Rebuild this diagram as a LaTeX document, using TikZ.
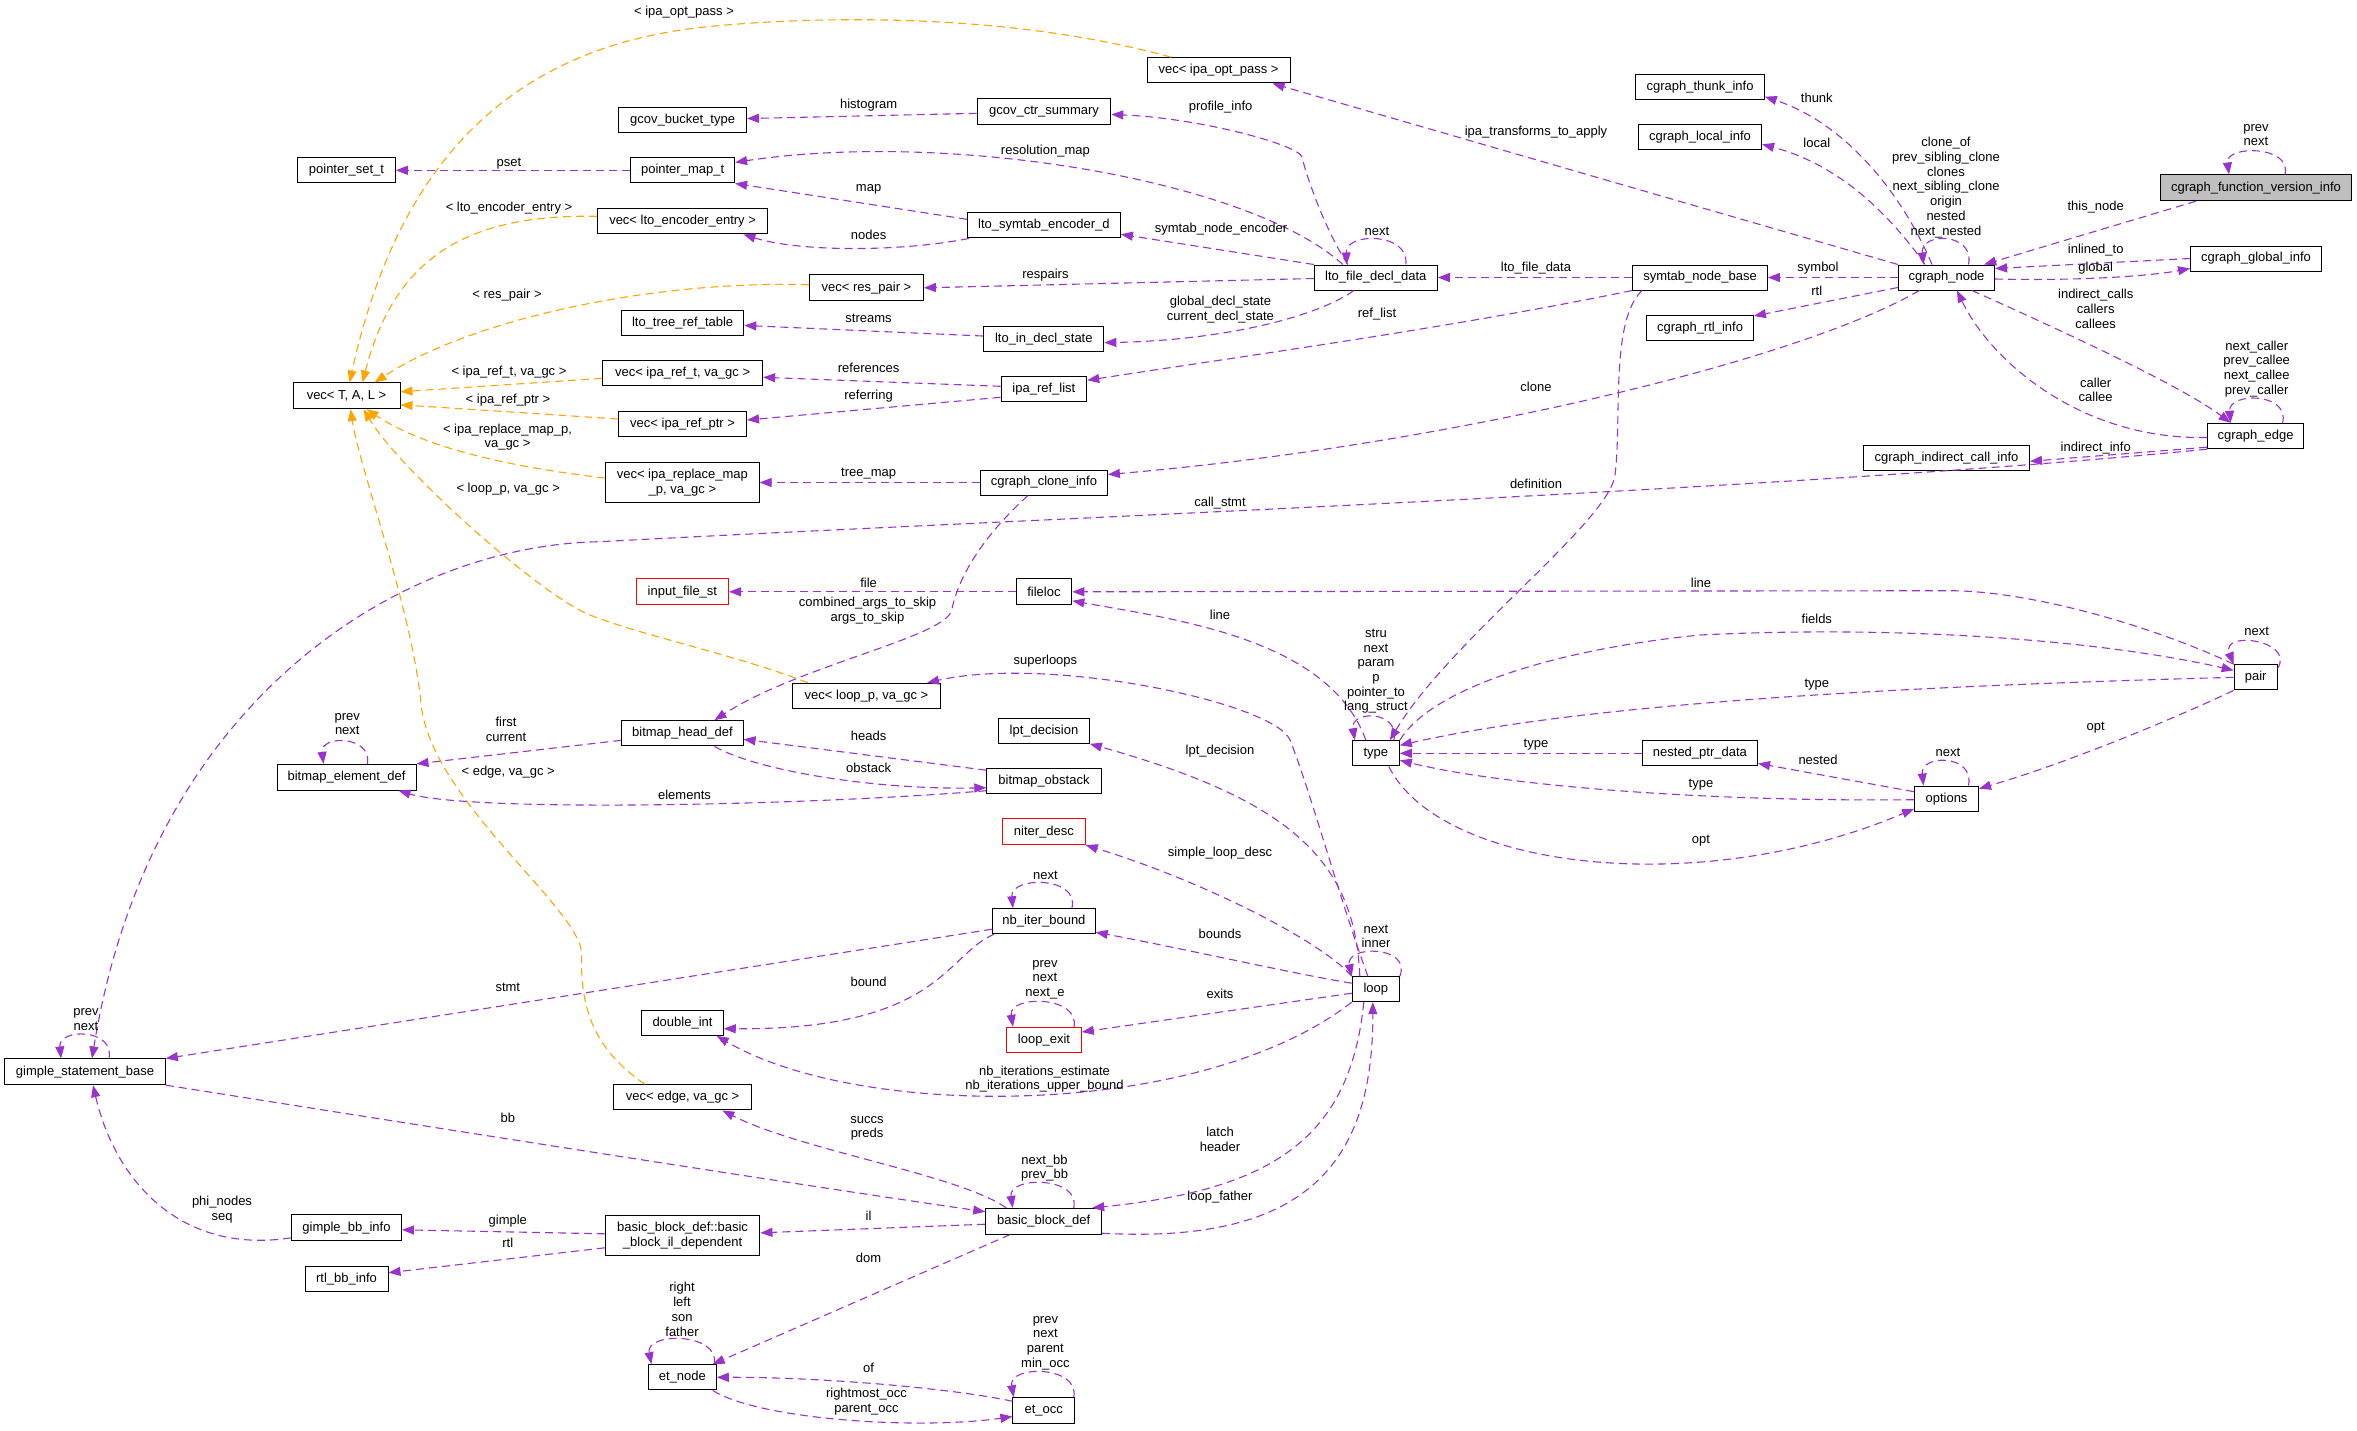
\documentclass[tikz,border=0pt]{standalone}
\usepackage{fontspec}
\setmainfont{Liberation Sans}
\usetikzlibrary{arrows.meta,calc}
\definecolor{epurple}{HTML}{9A32CD}
\definecolor{eorange}{HTML}{FFA500}
\definecolor{rootgray}{HTML}{BFBFBF}
\begin{document}
\begin{tikzpicture}[x=1pt,y=-1pt,
  cbox/.style={draw=black, line width=1pt, fill=white, inner sep=0pt, align=center, font=\fontsize{13}{14.7}\selectfont},
  rbox/.style={cbox, draw=red},
  lbl/.style={inner sep=0pt, align=center, font=\fontsize{13}{14.7}\selectfont},
  usearr/.style={draw=epurple, dash pattern=on 8pt off 5pt, line width=1.1pt, -{Triangle[length=12pt,width=9pt]}},
  tplarr/.style={usearr, draw=eorange}]
\useasboundingbox (0,0) rectangle (2357,1430);

% ---------------- nodes ----------------
\node[cbox, fill=rootgray, minimum width=191pt, minimum height=25.7pt] (nfvi) at (2256,187.8) {cgraph\_function\_version\_info};
\node[cbox, minimum width=96.2pt, minimum height=25pt] (ncgn) at (1946.5,277.5) {cgraph\_node};
\node[cbox, minimum width=131pt, minimum height=25pt] (ncgi) at (2256,258.5) {cgraph\_global\_info};
\node[cbox, minimum width=96.6pt, minimum height=25.4pt] (ncedge) at (2255.6,436) {cgraph\_edge};
\node[cbox, minimum width=166pt, minimum height=25.3pt] (nici) at (1946.5,458.3) {cgraph\_indirect\_call\_info};
\node[cbox, minimum width=128.6pt, minimum height=25.3pt] (nthunk) at (1700,86.7) {cgraph\_thunk\_info};
\node[cbox, minimum width=123.2pt, minimum height=25.3pt] (nlocal) at (1700,137.3) {cgraph\_local\_info};
\node[cbox, minimum width=106.8pt, minimum height=25.3pt] (nrtl) at (1700,328) {cgraph\_rtl\_info};
\node[cbox, minimum width=134.7pt, minimum height=25pt] (nsnb) at (1700,277.5) {symtab\_node\_base};
\node[cbox, minimum width=122.9pt, minimum height=25pt] (nlfdd) at (1375.8,277.5) {lto\_file\_decl\_data};
\node[cbox, minimum width=143pt, minimum height=25.3pt] (nvopt) at (1218.5,70.3) {vec< ipa\_opt\_pass >};
\node[cbox, minimum width=133.6pt, minimum height=25.7pt] (ngcs) at (1044,111.8) {gcov\_ctr\_summary};
\node[cbox, minimum width=127.8pt, minimum height=25.7pt] (ngbt) at (682.6,120) {gcov\_bucket\_type};
\node[cbox, minimum width=104pt, minimum height=25.3pt] (npmap) at (682.6,170.3) {pointer\_map\_t};
\node[cbox, minimum width=97.6pt, minimum height=25.3pt] (npset) at (346.5,170.3) {pointer\_set\_t};
\node[cbox, minimum width=170.6pt, minimum height=25.3pt] (nvlee) at (682.6,221.3) {vec< lto\_encoder\_entry >};
\node[cbox, minimum width=153pt, minimum height=25.3pt] (nlse) at (1043.9,225.3) {lto\_symtab\_encoder\_d};
\node[cbox, minimum width=113.7pt, minimum height=25.7pt] (nvrp) at (866.5,287.8) {vec< res\_pair >};
\node[cbox, minimum width=122.4pt, minimum height=25.3pt] (nltrt) at (682.6,322.7) {lto\_tree\_ref\_table};
\node[cbox, minimum width=120.2pt, minimum height=25.3pt] (nlids) at (1043.8,338.7) {lto\_in\_decl\_state};
\node[cbox, minimum width=160pt, minimum height=25.3pt] (nvrt) at (682.6,373.3) {vec< ipa\_ref\_t, va\_gc >};
\node[cbox, minimum width=85.7pt, minimum height=25.3pt] (nirl) at (1043.9,389.3) {ipa\_ref\_list};
\node[cbox, minimum width=127.8pt, minimum height=25.3pt] (nvrptr) at (682.6,424) {vec< ipa\_ref\_ptr >};
\node[cbox, minimum width=153.4pt, minimum height=39.6pt] (nvrm) at (682.4,482.5) {vec< ipa\_replace\_map\\\_p, va\_gc >};
\node[cbox, minimum width=127pt, minimum height=25pt] (ncci) at (1043.9,482.5) {cgraph\_clone\_info};
\node[cbox, minimum width=107pt, minimum height=25.7pt] (nvtal) at (346.5,395.8) {vec< T, A, L >};
\node[rbox, minimum width=92.2pt, minimum height=25.7pt] (nifs) at (682.4,591.8) {input\_file\_st};
\node[cbox, minimum width=55.8pt, minimum height=25.7pt] (nfloc) at (1043.9,591.8) {fileloc};
\node[cbox, minimum width=148.2pt, minimum height=25.4pt] (nvlp) at (866.5,696) {vec< loop\_p, va\_gc >};
\node[cbox, minimum width=121.3pt, minimum height=25.3pt] (nbhd) at (682.4,733.3) {bitmap\_head\_def};
\node[cbox, minimum width=90.7pt, minimum height=25.3pt] (nlpt) at (1044,730.7) {lpt\_decision};
\node[cbox, minimum width=114.4pt, minimum height=25pt] (nbob) at (1044,781.2) {bitmap\_obstack};
\node[cbox, minimum width=139pt, minimum height=25.7pt] (nbed) at (346.5,777.2) {bitmap\_element\_def};
\node[rbox, minimum width=82.6pt, minimum height=25.7pt] (nnd) at (1043.9,831.8) {niter\_desc};
\node[cbox, minimum width=102.6pt, minimum height=25pt] (nnib) at (1043.9,921.2) {nb\_iter\_bound};
\node[cbox, minimum width=47.1pt, minimum height=25.3pt] (ntype) at (1375.8,753.3) {type};
\node[cbox, minimum width=115.2pt, minimum height=25.3pt] (nnpd) at (1699.9,753.3) {nested\_ptr\_data};
\node[cbox, minimum width=43.1pt, minimum height=25.3pt] (npair) at (2255.7,677.3) {pair};
\node[cbox, minimum width=64pt, minimum height=25.3pt] (nopt) at (1946.5,798.7) {options};
\node[cbox, minimum width=160.7pt, minimum height=25.7pt] (ngsb) at (85,1071.8) {gimple\_statement\_base};
\node[cbox, minimum width=109.9pt, minimum height=25.7pt] (ngbb) at (346.5,1227.8) {gimple\_bb\_info};
\node[cbox, minimum width=83pt, minimum height=25.3pt] (nrbb) at (346.5,1278.7) {rtl\_bb\_info};
\node[cbox, minimum width=81.5pt, minimum height=25.3pt] (ndint) at (682.5,1022.7) {double\_int};
\node[rbox, minimum width=74.6pt, minimum height=25.4pt] (nlexit) at (1044,1040) {loop\_exit};
\node[cbox, minimum width=138.6pt, minimum height=25.3pt] (nvedge) at (682.6,1097.3) {vec< edge, va\_gc >};
\node[cbox, minimum width=116pt, minimum height=25.7pt] (nbbd) at (1043.7,1221.2) {basic\_block\_def};
\node[cbox, minimum width=154.7pt, minimum height=40.3pt] (nbbil) at (682.6,1235.8) {basic\_block\_def::basic\\\_block\_il\_dependent};
\node[cbox, minimum width=67.7pt, minimum height=25.3pt] (netn) at (682.4,1377.3) {et\_node};
\node[cbox, minimum width=61.6pt, minimum height=25.6pt] (neto) at (1043.7,1410.5) {et\_occ};
\node[cbox, minimum width=47.1pt, minimum height=25pt] (nloop) at (1375.8,989.2) {loop};

% ---------------- template (orange) edges ----------------
\draw[tplarr] (nvopt) .. controls (1000,10) and (800,17) .. (705,27) .. controls (480,50) and (390,200) .. (nvtal);
\node[lbl] (lb1) at (684,12.3) {< ipa\_opt\_pass >};
\draw[tplarr] ($(nvlee.west)+(0,-5)$) .. controls (470,214) and (395,255) .. ($(nvtal.north)+(16,0)$);
\node[lbl] (lb2) at (509,208.3) {< lto\_encoder\_entry >};
\draw[tplarr] ($(nvrp.west)+(0,-3)$) .. controls (650,280) and (470,320) .. ($(nvtal.north)+(28,0)$);
\node[lbl] (lb3) at (507,295) {< res\_pair >};
\draw[tplarr] ($(nvrt.west)+(0,5)$) -- ($(nvtal.east)+(0,-4)$);
\node[lbl] (lb4) at (509,371.7) {< ipa\_ref\_t, va\_gc >};
\draw[tplarr] ($(nvrptr.west)+(0,-5)$) -- ($(nvtal.east)+(0,9)$);
\node[lbl] (lb5) at (508,400) {< ipa\_ref\_ptr >};
\draw[tplarr] ($(nvrm.west)+(0,-4.5)$) .. controls (500,466) and (420,445) .. ($(nvtal.south)+(20,0)$);
\node[lbl] (lb6) at (507.5,437) {< ipa\_replace\_map\_p,\\va\_gc >};
\draw[tplarr] ($(nvlp.north west)+(16,0)$) .. controls (740,656) and (640,635) .. (590,615) .. controls (540,595) and (400,470) .. ($(nvtal.south)+(17,0)$);
\node[lbl] (lb7) at (508.2,489) {< loop\_p, va\_gc >};
\draw[tplarr] ($(nvedge.north west)+(32,0)$) .. controls (595,1050) and (580,1010) .. (581.7,955) .. controls (583,910) and (430,800) .. (421,703.3) .. controls (412,610) and (360,470) .. ($(nvtal.south)+(4,0)$);
\node[lbl] (lb8) at (508.2,771.7) {< edge, va\_gc >};

% ---------------- usage (purple) edges: upper part ----------------
\draw[usearr] (ncgn.north west) -- ($(nvopt.south east)+(-18,0)$);
\node[lbl] (lb9) at (1536,132) {ipa\_transforms\_to\_apply};
\draw[usearr] (ngcs) -- (ngbt);
\node[lbl] (lb10) at (868.6,104.7) {histogram};
\draw[usearr] ($(nlfdd.north)+(-28,0)$) .. controls (1325,230) and (1306,175) .. (1302,157) .. controls (1299,145) and (1200,118) .. (ngcs);
\node[lbl] (lb11) at (1220.6,106.7) {profile\_info};
\draw[usearr] ($(nlfdd.north)+(-33,0)$) .. controls (1250,180) and (950,130) .. (npmap);
\node[lbl] (lb12) at (1045.4,150.7) {resolution\_map};
\draw[usearr] (nlfdd.north west) -- ($(nlse.east)+(0,9)$);
\node[lbl] (lb13) at (1221,228.7) {symtab\_node\_encoder};
\draw[usearr] ($(nlfdd.north)+(30,0)$) .. controls (1410,232) and (1345,232) .. ($(nlfdd.north)+(-29,0)$);
\node[lbl] (lb14) at (1377,231.7) {next};
\draw[usearr] ($(nlfdd.west)+(0,1)$) -- (nvrp.east);
\node[lbl] (lb15) at (1045.4,275) {respairs};
\draw[usearr] ($(nlfdd.south)+(-22,0)$) .. controls (1320,315) and (1230,340) .. ($(nlids.east)+(0,4)$);
\node[lbl] (lb16) at (1220.4,309.5) {global\_decl\_state\\current\_decl\_state};
\draw[usearr] ($(nlse.west)+(0,-6)$) -- (npmap.south east);
\node[lbl] (lb17) at (868.6,189) {map};
\draw[usearr] ($(nlse.south west)+(2,0)$) .. controls (900,252) and (800,252) .. ($(nvlee.south east)+(-25,0)$);
\node[lbl] (lb18) at (868.6,234.7) {nodes};
\draw[usearr] (npmap) -- (npset);
\node[lbl] (lb19) at (509,163.3) {pset};
\draw[usearr] (nlids) -- (nltrt);
\node[lbl] (lb20) at (868.6,318.7) {streams};
\draw[usearr] ($(nirl.west)+(0,-3)$) -- ($(nvrt.east)+(0,4)$);
\node[lbl] (lb21) at (868.6,368.3) {references};
\draw[usearr] ($(nirl.west)+(0,8)$) -- ($(nvrptr.east)+(0,-4)$);
\node[lbl] (lb22) at (868.6,395.7) {referring};
\draw[usearr] (nsnb.south west) .. controls (1450,328) and (1250,355) .. ($(nirl.east)+(0,-9)$);
\node[lbl] (lb23) at (1377,314.3) {ref\_list};
\draw[usearr] (ncci) -- (nvrm);
\node[lbl] (lb24) at (868.6,473.3) {tree\_map};
\draw[usearr] ($(ncgn.south west)+(21.4,0)$) .. controls (1800,360) and (1450,445) .. ($(ncci.east)+(0,-8)$);
\node[lbl] (lb25) at (1536,386.7) {clone};
\draw[usearr] ($(nsnb.south west)+(10,0)$) .. controls (1610,320) and (1622,420) .. (1615,475) .. controls (1609,522) and (1450,640) .. ($(ntype.north)+(14,0)$);
\node[lbl] (lb26) at (1536,484.3) {definition};
\draw[usearr] (ncgn) -- (nsnb);
\node[lbl] (lb27) at (1818,268.3) {symbol};
\draw[usearr] (nsnb) -- (nlfdd);
\node[lbl] (lb28) at (1536,268.3) {lto\_file\_data};
\draw[usearr] ($(ncgn.north)+(-14.5,0)$) .. controls (1905,200) and (1850,125) .. ($(nthunk.east)+(0,10)$);
\node[lbl] (lb29) at (1816.8,98.3) {thunk};
\draw[usearr] ($(ncgn.north)+(-21.5,0)$) .. controls (1890,215) and (1840,165) .. ($(nlocal.east)+(0,7)$);
\node[lbl] (lb30) at (1816.8,142.7) {local};
\draw[usearr] ($(ncgn.north)+(22,0)$) .. controls (1975,232) and (1920,232) .. ($(ncgn.north)+(-23,0)$);
\node[lbl] (lb31) at (1946,187.5) {clone\_of\\prev\_sibling\_clone\\clones\\next\_sibling\_clone\\origin\\nested\\next\_nested};
\draw[usearr] ($(nfvi.south west)+(36,0)$) -- ($(ncgn.north east)+(-11,0)$);
\node[lbl] (lb32) at (2095.7,206.7) {this\_node};
\draw[usearr] ($(nfvi.north)+(29,0)$) .. controls (2292,145) and (2225,145) .. ($(nfvi.north)+(-27,0)$);
\node[lbl] (lb33) at (2256,135.2) {prev\\next};
\draw[usearr] (ncgi.west) -- ($(ncgn.east)+(0,-9)$);
\node[lbl] (lb34) at (2095.7,250) {inlined\_to};
\draw[usearr] ($(ncgn.east)+(0,1.5)$) .. controls (2080,281) and (2150,276) .. ($(ncgi.west)+(0,10)$);
\node[lbl] (lb35) at (2095.7,268.3) {global};
\draw[usearr] ($(ncgn.west)+(0,10)$) -- ($(nrtl.east)+(0,-12)$);
\node[lbl] (lb36) at (1816.8,290.7) {rtl};
\draw[usearr] ($(ncgn.south)+(25.5,0)$) .. controls (2060,330) and (2180,385) .. ($(ncedge.north)+(-25,0)$);
\node[lbl] (lb37) at (2095.7,308.8) {indirect\_calls\\callers\\callees};
\draw[usearr] ($(ncedge.west)+(0,1.5)$) .. controls (2080,440) and (1990,360) .. ($(ncgn.south)+(10.5,0)$);
\node[lbl] (lb38) at (2095.7,389.7) {caller\\callee};
\draw[usearr] ($(ncedge.north)+(27,0)$) .. controls (2290,392) and (2228,392) .. ($(ncedge.north)+(-25,0)$);
\node[lbl] (lb39) at (2256.7,368.7) {next\_caller\\prev\_callee\\next\_callee\\prev\_caller};
\draw[usearr] ($(ncedge.south west)+(0,-2)$) -- ($(nici.east)+(0,3)$);
\node[lbl] (lb40) at (2095.7,448.3) {indirect\_info};
\draw[usearr] (ncedge.south west) .. controls (1800,490) and (1000,520) .. (600,541.7) .. controls (400,545) and (150,700) .. ($(ngsb.north)+(7,0)$);
\node[lbl] (lb41) at (1220,502.7) {call\_stmt};
\draw[usearr] ($(ngsb.north)+(24,0)$) .. controls (115,1028) and (58,1028) .. ($(ngsb.north)+(-24,0)$);
\node[lbl] (lb42) at (86,1019.2) {prev\\next};

% ---------------- type / pair / options ----------------
\draw[usearr] (npair.north west) .. controls (2150,625) and (2030,591) .. (1950,590.7) -- (nfloc.east);
\node[lbl] (lb43) at (1701,582.7) {line};
\draw[usearr] ($(npair.north east)+(0,4)$) .. controls (2295,640) and (2220,630) .. (npair.north west);
\node[lbl] (lb44) at (2256.7,631.7) {next};
\draw[usearr] (ntype.north east) .. controls (1430,690) and (1550,650) .. (1700,635) .. controls (1900,625) and (2100,640) .. ($(npair.west)+(0,-7)$);
\node[lbl] (lb45) at (1816.8,619.3) {fields};
\draw[usearr] (npair.west) .. controls (1950,685) and (1600,700) .. ($(ntype.east)+(0,-8)$);
\node[lbl] (lb46) at (1816.8,685) {type};
\draw[usearr] ($(ntype.north)+(-10,0)$) .. controls (1330,640) and (1180,620) .. ($(nfloc.east)+(0,9)$);
\node[lbl] (lb47) at (1220,615.3) {line};
\draw[usearr] ($(ntype.south)+(13,0)$) .. controls (1440,870) and (1700,900) .. ($(nopt.south west)+(0,-3)$);
\node[lbl] (lb48) at (1701,840.7) {opt};
\draw[usearr] ($(nopt.west)+(0,1)$) .. controls (1700,802) and (1500,785) .. ($(ntype.east)+(0,7)$);
\node[lbl] (lb49) at (1701,785) {type};
\draw[usearr] ($(nopt.west)+(0,-7)$) -- ($(nnpd.south east)+(0,-3)$);
\node[lbl] (lb50) at (1818,760) {nested};
\draw[usearr] (nnpd) -- (ntype);
\node[lbl] (lb51) at (1536,745) {type};
\draw[usearr] (npair.south west) .. controls (2160,725) and (2060,765) .. ($(nopt.east)+(0,-10)$);
\node[lbl] (lb52) at (2095.7,727.7) {opt};
\draw[usearr] ($(nopt.north)+(22,0)$) .. controls (1975,754) and (1920,754) .. ($(nopt.north)+(-23,0)$);
\node[lbl] (lb53) at (1948,752.7) {next};
\draw[usearr] ($(ntype.north east)+(-6,0)$) .. controls (1400,710) and (1350,710) .. ($(ntype.north west)+(3,0)$);
\node[lbl] (lb54) at (1376,671.2) {stru\\next\\param\\p\\pointer\_to\\lang\_struct};

% ---------------- middle ----------------
\draw[usearr] (nfloc) -- (nifs);
\node[lbl] (lb55) at (868.6,583.3) {file};
\draw[usearr] ($(ncci.south)+(-16,0)$) .. controls (990,530) and (960,570) .. (951.7,610) .. controls (946,637) and (800,665) .. ($(nbhd.north)+(32,0)$);
\node[lbl] (lb56) at (867.5,610.8) {combined\_args\_to\_skip\\args\_to\_skip};
\draw[usearr] ($(nbhd.west)+(0,7)$) -- (nbed.north east);
\node[lbl] (lb57) at (506,729.5) {first\\current};
\draw[usearr] ($(nbob.north west)+(0,2)$) -- ($(nbhd.east)+(0,6)$);
\node[lbl] (lb58) at (868.6,735.7) {heads};
\draw[usearr] ($(nbhd.south)+(32,0)$) .. controls (760,772) and (880,790) .. ($(nbob.west)+(0,6.5)$);
\node[lbl] (lb59) at (868.6,768.3) {obstack};
\draw[usearr] ($(nbob.west)+(0,9.5)$) .. controls (800,806) and (470,812) .. ($(nbed.south east)+(-18,0)$);
\node[lbl] (lb60) at (684.5,795) {elements};
\draw[usearr] ($(nbed.north)+(21,0)$) .. controls (372,735) and (320,735) .. ($(nbed.north)+(-23,0)$);
\node[lbl] (lb61) at (347.3,724.2) {prev\\next};

% ---------------- loop ----------------
\draw[usearr] ($(nloop.north)+(-8,0)$) .. controls (1340,900) and (1310,790) .. (1290,740) .. controls (1275,703) and (1050,655) .. ($(nvlp.north east)+(-14,0)$);
\node[lbl] (lb62) at (1045.4,660.7) {superloops};
\draw[usearr] ($(nloop.north)+(-16,0)$) .. controls (1355,860) and (1290,800) .. (nlpt.south east);
\node[lbl] (lb63) at (1220,750.7) {lpt\_decision};
\draw[usearr] (nloop.north west) .. controls (1320,940) and (1200,880) .. (nnd.south east);
\node[lbl] (lb64) at (1220,852.7) {simple\_loop\_desc};
\draw[usearr] ($(nloop.west)+(0,-6)$) .. controls (1300,975) and (1180,948) .. ($(nnib.east)+(0,11)$);
\node[lbl] (lb65) at (1220,934.3) {bounds};
\draw[usearr] ($(nloop.west)+(0,4)$) -- ($(nlexit.east)+(0,-8)$);
\node[lbl] (lb66) at (1220,994.3) {exits};
\draw[usearr] (nloop.north east) .. controls (1412,945) and (1345,945) .. (nloop.north west);
\node[lbl] (lb67) at (1376,936.2) {next\\inner};
\draw[usearr] (nloop.south west) .. controls (1200,1120) and (860,1120) .. ($(ndint.south east)+(-7,0)$);
\node[lbl] (lb68) at (1044.5,1079.2) {nb\_iterations\_estimate\\nb\_iterations\_upper\_bound};
\draw[usearr] ($(nnib.south west)+(2,0)$) .. controls (945,955) and (940,1030) .. ($(ndint.east)+(0,6)$);
\node[lbl] (lb69) at (868.6,982.3) {bound};
\draw[usearr] ($(nnib.west)+(0,8)$) -- (ngsb.north east);
\node[lbl] (lb70) at (507.8,987.7) {stmt};
\draw[usearr] ($(nnib.north)+(28,0)$) .. controls (1080,876) and (1010,876) .. ($(nnib.north)+(-31,0)$);
\node[lbl] (lb71) at (1045.4,875.7) {next};
\draw[usearr] ($(nlexit.north)+(30,0)$) .. controls (1080,995) and (1008,995) .. ($(nlexit.north)+(-31,0)$);
\node[lbl] (lb72) at (1045,979.7) {prev\\next\\next\_e};
\draw[usearr] ($(nloop.south)+(-12,0)$) .. controls (1350,1140) and (1270,1190) .. ($(nbbd.north east)+(-10,0)$);
\node[lbl] (lb73) at (1220,1139.2) {latch\\header};
\draw[usearr] ($(nbbd.east)+(0,12)$) .. controls (1315,1245) and (1373,1155) .. ($(nloop.south)+(-3,0)$);
\node[lbl] (lb74) at (1220,1196.7) {loop\_father};

% ---------------- basic blocks ----------------
\draw[usearr] (ngsb.south east) .. controls (450,1130) and (800,1185) .. ($(nbbd.west)+(0,-9.5)$);
\node[lbl] (lb75) at (507.8,1118.3) {bb};
\draw[usearr] ($(nbbd.north west)+(21,0)$) .. controls (960,1175) and (800,1150) .. ($(nvedge.south east)+(-30,0)$);
\node[lbl] (lb76) at (867,1128.2) {succs\\preds};
\draw[usearr] ($(nbbd.west)+(0,3)$) -- ($(nbbil.east)+(0,-3)$);
\node[lbl] (lb77) at (868.6,1215.7) {il};
\draw[usearr] ($(nbbd.north)+(30,0)$) .. controls (1081,1176) and (1008,1176) .. ($(nbbd.north)+(-31,0)$);
\node[lbl] (lb78) at (1044.5,1168.2) {next\_bb\\prev\_bb};
\draw[usearr] ($(nbbd.south west)+(25,0)$) -- ($(netn.north east)+(-4,0)$);
\node[lbl] (lb79) at (868.6,1258.3) {dom};
\draw[usearr] ($(nbbil.west)+(0,-2)$) -- ($(ngbb.east)+(0,2)$);
\node[lbl] (lb80) at (507.8,1220.7) {gimple};
\draw[usearr] ($(nbbil.west)+(0,12)$) -- ($(nrbb.east)+(0,-6)$);
\node[lbl] (lb81) at (507.8,1243.3) {rtl};
\draw[usearr] ($(ngbb.west)+(0,10)$) .. controls (180,1255) and (115,1180) .. ($(ngsb.south)+(8,0)$);
\node[lbl] (lb82) at (222,1209.7) {phi\_nodes\\seq};
\draw[usearr] ($(netn.north)+(32,0)$) .. controls (720,1332) and (645,1332) .. ($(netn.north)+(-31,0)$);
\node[lbl] (lb83) at (682,1309.3) {right\\left\\son\\father};
\draw[usearr] ($(neto.north west)+(0,4)$) .. controls (950,1388) and (820,1377) .. (netn.east);
\node[lbl] (lb84) at (868.6,1368.3) {of};
\draw[usearr] ($(netn.south east)+(-4,0)$) .. controls (760,1420) and (920,1430) .. ($(neto.west)+(0,6)$);
\node[lbl] (lb85) at (866.5,1401.5) {rightmost\_occ\\parent\_occ};
\draw[usearr] ($(neto.north)+(30,0)$) .. controls (1080,1365) and (1008,1365) .. ($(neto.north)+(-30,0)$);
\node[lbl] (lb86) at (1045.4,1342.9) {prev\\next\\parent\\min\_occ};
\end{tikzpicture}
\end{document}
